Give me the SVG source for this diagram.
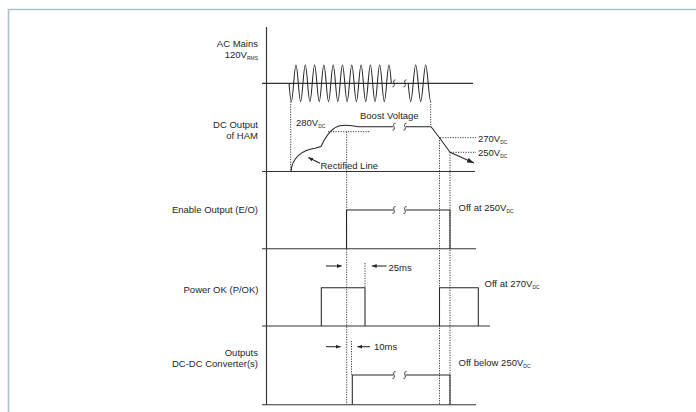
<svg xmlns="http://www.w3.org/2000/svg" width="696" height="412" viewBox="0 0 696 412">
<style>
.t{font-family:"Liberation Sans",Arial,Helvetica,sans-serif;font-size:9.5px;fill:#262626}
.s{font-size:5px}
.ln{fill:none;stroke:#262626;stroke-width:1.05}
.ax{fill:none;stroke:#333333;stroke-width:1.15}
.dt{fill:none;stroke:#262626;stroke-width:0.9;stroke-dasharray:1.2 1.3}
.br{fill:none;stroke:#262626;stroke-width:0.9}
</style>
<defs>
<marker id="ah" markerUnits="userSpaceOnUse" markerWidth="5" markerHeight="4" refX="5" refY="2" orient="auto"><path d="M0,0 L5,2 L0,4 z" fill="#262626"/></marker>
<marker id="ahL" markerUnits="userSpaceOnUse" markerWidth="7" markerHeight="5" refX="7" refY="2.5" orient="auto"><path d="M0,0 L7,2.5 L0,5 z" fill="#262626"/></marker>
</defs>
<rect width="696" height="412" fill="#ffffff"/>
<path d="M8.5,412 V9.5 H696" fill="none" stroke="#abc4ca" stroke-width="1.6"/>

<g id="axis">
<path class="ax" d="M266.5,27 V405"/>
</g>

<g id="ac-mains">
<text class="t" x="258" y="46.5" text-anchor="end">AC Mains</text>
<text class="t" x="258" y="57.5" text-anchor="end">120V<tspan class="s" dy="2">RMS</tspan></text>
<path class="ax" d="M262,83.3 H473"/>
<path class="ln" d="M289,83.3 c1.97,24.4 2.68,24.4 4.65,0 c1.97,-24.4 2.68,-24.4 4.65,0 c1.97,24.4 2.68,24.4 4.65,0 c1.97,-24.4 2.68,-24.4 4.65,0 c1.97,24.4 2.68,24.4 4.65,0 c1.97,-24.4 2.68,-24.4 4.65,0 c1.97,24.4 2.68,24.4 4.65,0 c1.97,-24.4 2.68,-24.4 4.65,0 c1.97,24.4 2.68,24.4 4.65,0 c1.97,-24.4 2.68,-24.4 4.65,0 c1.97,24.4 2.68,24.4 4.65,0 c1.97,-24.4 2.68,-24.4 4.65,0 c1.97,24.4 2.68,24.4 4.65,0 c1.97,-24.4 2.68,-24.4 4.65,0 c1.97,24.4 2.68,24.4 4.65,0 c1.97,-24.4 2.68,-24.4 4.65,0 c1.97,24.4 2.68,24.4 4.65,0 c1.97,-24.4 2.68,-24.4 4.65,0 c1.97,24.4 2.68,24.4 4.65,0 c1.97,-24.4 2.68,-24.4 4.65,0 c1.97,24.4 2.68,24.4 4.65,0 c1.97,-24.4 2.68,-24.4 4.65,0"/>
<path class="ln" d="M408.2,83.3 c2.12,24.4 2.88,24.4 5,0 c2.12,-24.4 2.88,-24.4 5,0 c2.12,24.4 2.88,24.4 5,0 c2.12,-24.4 2.88,-24.4 5,0 c1.06,12.2 1.8,18.3 2.5,18.3"/>
<path class="br" d="M395.5,79.8 C393.7,79.3 393.2,82.3 394,83.3 S394.3,87.3 392.5,86.8 M406.5,79.8 C404.7,79.3 404.2,82.3 405,83.3 S405.3,87.3 403.5,86.8"/>
</g>

<g id="dc-output">
<text class="t" x="258" y="127.5" text-anchor="end">DC Output</text>
<text class="t" x="258" y="139" text-anchor="end">of HAM</text>
<path class="ax" d="M262,171.5 H475"/>
<path class="ln" d="M291,171.5 C292,158 302,150 315,148.3 L321,146.5 C324,140 330,128 340,125.8 C346,124.5 352,125.8 358,126.7 L393,126.7"/>
<path class="ln" d="M406,126.7 H431 L439.5,137.7 L450,152.3" />
<path class="ln" d="M450,152.3 L474,163" marker-end="url(#ahL)"/>
<path class="br" d="M395.5,123.2 C393.7,122.7 393.2,125.7 394,126.7 S394.3,130.7 392.5,130.2 M406.5,123.2 C404.7,122.7 404.2,125.7 405,126.7 S405.3,130.7 403.5,130.2"/>
<text class="t" x="296" y="126">280V<tspan class="s" dy="2">DC</tspan></text>
<text class="t" x="360" y="119">Boost Voltage</text>
<text class="t" x="478" y="142">270V<tspan class="s" dy="2">DC</tspan></text>
<text class="t" x="478" y="156">250V<tspan class="s" dy="2">DC</tspan></text>
<text class="t" x="320.5" y="168.5">Rectified Line</text>
<path class="ln" d="M320,163.3 L308.3,157.5" marker-end="url(#ah)"/>
</g>

<g id="enable-output">
<text class="t" x="258" y="212.5" text-anchor="end">Enable Output (E/O)</text>
<path class="ax" d="M262,248.7 H476"/>
<path class="ln" d="M346.5,248.7 V210 H393 M406,210 H450 V248.7"/>
<path class="br" d="M395.5,206.5 C393.7,206 393.2,209 394,210 S394.3,214 392.5,213.5 M406.5,206.5 C404.7,206 404.2,209 405,210 S405.3,214 403.5,213.5"/>
<text class="t" x="458.5" y="211">Off at 250V<tspan class="s" dy="2">DC</tspan></text>
</g>

<g id="power-ok">
<text class="t" x="258.5" y="293" text-anchor="end">Power OK (P/OK)</text>
<path class="ax" d="M262,326 H490"/>
<path class="ln" d="M321.3,326 V287.7 H365 V326 M439.5,326 V287.7 H478.3 V326"/>
<text class="t" x="484.5" y="286.5">Off at 270V<tspan class="s" dy="2">DC</tspan></text>
<path class="ln" d="M326,266 H341.7" marker-end="url(#ah)"/>
<path class="ln" d="M386.5,266 H371.7" marker-end="url(#ah)"/>
<text class="t" x="388.5" y="270.5">25ms</text>
</g>

<g id="dc-dc-outputs">
<text class="t" x="258" y="355.5" text-anchor="end">Outputs</text>
<text class="t" x="258" y="366.5" text-anchor="end">DC-DC Converter(s)</text>
<path class="ax" d="M262,404.7 H476"/>
<path class="ln" d="M352.3,404.7 V375 H393 M406,375 H450 V404.7"/>
<path class="br" d="M395.5,371.5 C393.7,371 393.2,374 394,375 S394.3,379 392.5,378.5 M406.5,371.5 C404.7,371 404.2,374 405,375 S405.3,379 403.5,378.5"/>
<text class="t" x="458.5" y="366">Off below 250V<tspan class="s" dy="2">DC</tspan></text>
<path class="ln" d="M326,346.7 H340.7" marker-end="url(#ah)"/>
<path class="ln" d="M370,346.7 H357.3" marker-end="url(#ah)"/>
<text class="t" x="374" y="350">10ms</text>
</g>

<g id="connectors">
<path class="dt" d="M290.7,101.5 V171.5"/>
<path class="dt" d="M430.7,101.5 V126.7"/>
<path class="dt" d="M328,131.7 H370"/>
<path class="dt" d="M346.7,131.7 V404.7"/>
<path class="dt" d="M440,137.7 H476"/>
<path class="dt" d="M450.5,152.3 H476"/>
<path class="dt" d="M439.5,137.7 V404.7"/>
<path class="dt" d="M450,152.3 V404.7"/>
<path class="dt" d="M365,263 V287.7"/>
<path class="dt" d="M351.5,341 V375"/>
</g>
</svg>
